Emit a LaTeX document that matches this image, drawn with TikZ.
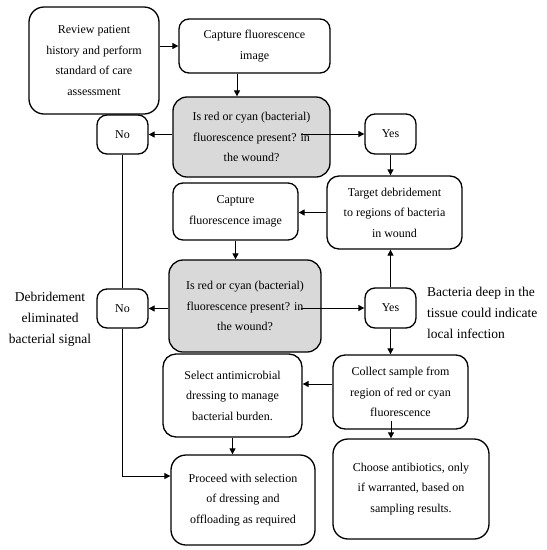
\documentclass[tikz,border=0pt]{standalone}
\usepackage{fontspec}
\setmainfont{Liberation Serif}
\usetikzlibrary{arrows.meta}
\begin{document}
\begin{tikzpicture}[x=1pt,y=-1pt,
  box/.style={draw=black, line width=1.3pt, rounded corners=10pt, align=center, inner sep=0pt,
    font=\fontsize{12}{20.5}\selectfont},
  gbox/.style={box, fill=gray!30, rounded corners=14pt},
  arr/.style={line width=1pt, -{Triangle[length=6pt,width=6pt]}},
  ln/.style={line width=1pt},
  lbl/.style={font=\fontsize{13.5}{21}\selectfont, inner sep=0pt}]
\useasboundingbox (0,0) rectangle (547,550);
\node[box, rounded corners=15pt, minimum width=130pt, minimum height=107pt] (A) at (94,60.5)
  {Review patient\\history and perform\\standard of care\\assessment};
\node[box, minimum width=151pt, minimum height=54pt] (B) at (254.5,46)
  {\raisebox{-3pt}{\parbox{140pt}{\centering Capture fluorescence\\image}}};
\node[gbox, minimum width=157pt, minimum height=80pt] (D1) at (251.5,137)
  {Is red or cyan (bacterial)\\fluorescence present? in\\the wound?};
\node[box, minimum width=51pt, minimum height=39pt] (N1) at (122.5,134.5) {No};
\node[box, minimum width=51pt, minimum height=40pt] (Y1) at (390.5,134) {Yes};
\node[box, rounded corners=12pt, minimum width=135pt, minimum height=73pt] (T) at (394.5,212.5)
  {Target debridement\\to regions of bacteria\\in wound};
\node[box, minimum width=125pt, minimum height=57pt] (C2) at (235.5,211.5)
  {Capture\\fluorescence image};
\node[gbox, minimum width=152pt, minimum height=92pt] (D2) at (245,306)
  {Is red or cyan (bacterial)\\fluorescence present? in\\the wound?};
\node[box, minimum width=51pt, minimum height=39pt] (N2) at (122.5,308.5) {No};
\node[box, minimum width=51pt, minimum height=40pt] (Y2) at (390.5,308) {Yes};
\node[box, rounded corners=13pt, minimum width=139pt, minimum height=83pt] (S) at (232.5,395.5)
  {Select antimicrobial\\dressing to manage\\bacterial burden.};
\node[box, rounded corners=12pt, minimum width=135pt, minimum height=74pt] (CS) at (400.5,392)
  {Collect sample from\\region of red or cyan\\fluorescence};
\node[box, rounded corners=15pt, minimum width=144pt, minimum height=90pt] (P) at (243,500)
  {Proceed with selection\\of dressing and\\offloading as required};
\node[box, rounded corners=15pt, minimum width=156pt, minimum height=100pt] (CA) at (411,489)
  {Choose antibiotics, only\\if warranted, based on\\sampling results.};
\node[lbl, align=center] (L1) at (50,319)
  {Debridement\\eliminated\\bacterial signal};
\node[lbl, align=left, anchor=west] (L2) at (427,313)
  {Bacteria deep in the\\tissue could indicate\\local infection};
\coordinate (pj) at (122.5,476);
% connectors
\draw[arr] (A.east |- B.west) -- (B.west);
\draw[arr] ([xshift=-17.5pt]B.south) -- ([xshift=-17.5pt]B.south |- D1.north);
\draw[arr] (D1.west |- N1.east) -- (N1.east);
\draw[arr] ([xshift=-30pt]D1.east |- Y1.west) -- (Y1.west);
\draw[arr] (Y1.south) -- (Y1.south |- T.north);
\draw[arr] (T.west) -- (T.west -| C2.east);
\draw[arr] (C2.south) -- (C2.south |- D2.north);
\draw[arr] (D2.west |- N2.east) -- (N2.east);
\draw[arr] ([xshift=-21pt]D2.east |- Y2.west) -- (Y2.west);
\draw[arr] (Y2.north) -- (Y2.north |- T.south);
\draw[arr] (Y2.south) -- (Y2.south |- CS.north);
\draw[ln] (N1.south) -- (N2.north);
\draw[arr] (N2.south) -- (pj) -- (pj -| P.west);
\draw[arr] ([yshift=8pt]CS.west) -- ([yshift=8pt]CS.west -| S.east);
\draw[arr] (S.south) -- (S.south |- P.north);
\draw[arr] ([xshift=-9.5pt,yshift=9pt]CS.south) -- ([xshift=-9.5pt]CS.south |- CA.north);
\end{tikzpicture}
\end{document}
